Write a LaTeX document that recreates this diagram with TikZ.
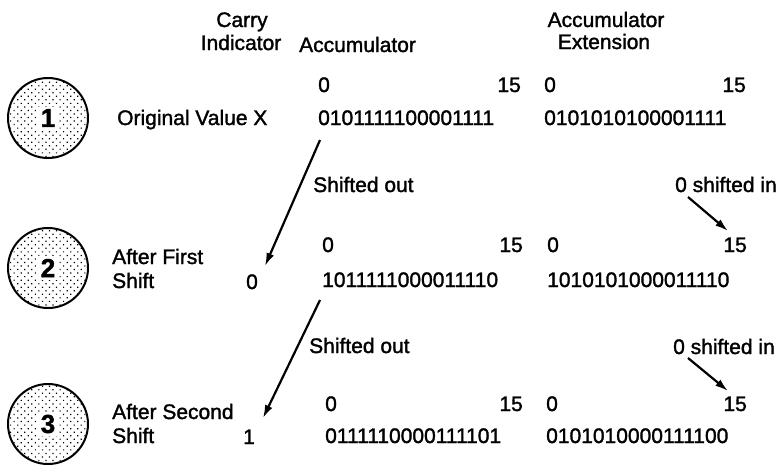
\documentclass[tikz,border=0pt]{standalone}
\usepackage{fontspec}
\setmainfont{Liberation Sans}[FakeBold=1.5]
\usetikzlibrary{arrows.meta,patterns.meta}
\begin{document}
\begin{tikzpicture}[x=1pt,y=-1pt,
  txt/.style={inner sep=0pt, font=\fontsize{21}{24}\selectfont},
  lbl/.style={txt, anchor=base west},
  rlbl/.style={txt, anchor=base east},
  clbl/.style={txt, anchor=base},
  stepcirc/.style={circle, draw, line width=2pt, minimum size=80pt, inner sep=0pt,
    pattern={Dots[distance=5pt, radius=0.85pt, angle=45]}},
  stepnum/.style={fill=white, inner sep=2.5pt, font=\fontsize{26}{28}\selectfont\bfseries},
  arr/.style={line width=2.2pt, -{Latex[length=13pt, width=8pt]}}
]
\useasboundingbox (0,0) rectangle (783,464);

% headers
\node[clbl] (h1) at (242,27) {Carry};
\node[clbl] (h2) at (241,50) {Indicator};
\node[lbl]  (h3) at (299,52) {Accumulator};
\node[clbl] (h4) at (606,27) {Accumulator};
\node[clbl] (h5) at (604,49) {Extension};

% step circles
\node[stepcirc] (s1) at (48,118) {};
\node[stepnum] (n1) at (s1) {1};
\node[stepcirc] (s2) at (48,268) {};
\node[stepnum] (n2) at (s2) {2};
\node[stepcirc] (s3) at (48,424) {};
\node[stepnum] (n3) at (s3) {3};

% row 1
\node[lbl] (d1) at (117,125) {Original Value X};
\node[lbl]  (a1l) at (318,92) {0};
\node[rlbl] (a1r) at (521,92) {15};
\node[lbl]  (e1l) at (544,92) {0};
\node[rlbl] (e1r) at (746,92) {15};
\node[lbl]  (a1) at (318,125) {0101111100001111};
\node[lbl]  (e1) at (544,125) {0101010100001111};

% between 1 and 2
\node[lbl] (so1) at (313,192) {Shifted out};
\node[lbl] (si1) at (675,192) {0 shifted in};

% row 2
\node[lbl] (d2a) at (112,264) {After First};
\node[lbl] (d2b) at (112,288) {Shift};
\node[clbl] (c2) at (252,289) {0};
\node[lbl]  (a2l) at (322,252) {0};
\node[rlbl] (a2r) at (523,252) {15};
\node[lbl]  (e2l) at (547,252) {0};
\node[rlbl] (e2r) at (747,252) {15};
\node[lbl]  (a2) at (322,287) {1011111000011110};
\node[lbl]  (e2) at (547,287) {1010101000011110};

% between 2 and 3
\node[lbl] (so2) at (309,353) {Shifted out};
\node[lbl] (si2) at (673,354) {0 shifted in};

% row 3
\node[lbl] (d3a) at (112,419) {After Second};
\node[lbl] (d3b) at (112,443) {Shift};
\node[clbl] (c3) at (249,444) {1};
\node[lbl]  (a3l) at (325,411) {0};
\node[rlbl] (a3r) at (523,411) {15};
\node[lbl]  (e3l) at (546,411) {0};
\node[rlbl] (e3r) at (747,411) {15};
\node[lbl]  (a3) at (325,443) {0111110000111101};
\node[lbl]  (e3) at (546,443) {0101010000111100};

% arrow end points
\coordinate (o1s) at (320,140);
\coordinate (o1e) at (265,266);
\coordinate (o2s) at (320,300);
\coordinate (o2e) at (263,418);
\coordinate (i1s) at (688,197);
\coordinate (i1e) at (728,231);
\coordinate (i2s) at (688,358);
\coordinate (i2e) at (728,391);

\draw[arr] (o1s) -- (o1e);
\draw[arr] (o2s) -- (o2e);
\draw[arr] (i1s) -- (i1e);
\draw[arr] (i2s) -- (i2e);
\end{tikzpicture}
\end{document}
